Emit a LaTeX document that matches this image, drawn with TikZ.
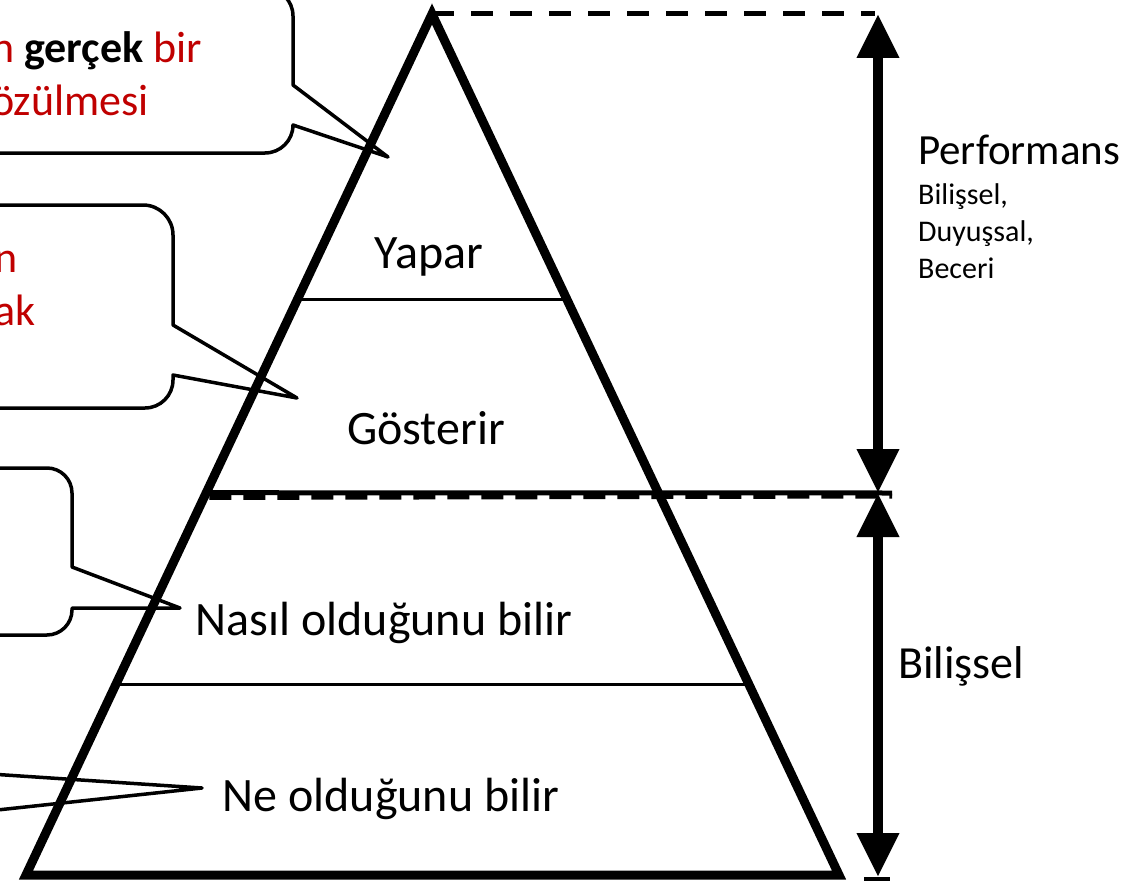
\documentclass[tikz,border=0pt]{standalone}
\usepackage{fontspec}
\setmainfont{Carlito}
\usepackage{xcolor}
\usetikzlibrary{arrows.meta,calc}
\definecolor{notered}{HTML}{C00000}

\begin{document}
\begin{tikzpicture}[x=1pt,y=-1pt,
    lbl/.style={font=\fontsize{48}{58}\selectfont,anchor=base,inner sep=0pt},
    callout/.style={draw=black,line width=3.5pt,fill=white,line join=round},
    notetext/.style={font=\fontsize{44}{53}\selectfont,text=notered,align=left,anchor=base west,inner sep=0pt},
    divider/.style={line width=3pt},
    span/.style={line width=10pt,{Triangle[width=40pt,length=44pt]}-{Triangle[width=40pt,length=44pt]}}]
    \useasboundingbox (0,0) rectangle (1141,883);
    \clip (0,0) rectangle (1141,883);
    % ===== Callouts (LEFT) =====
    \coordinate (tipA) at (388,157);
    \coordinate (tipB) at (297,398);
    \coordinate (tipC) at (180,608);
    \coordinate (tipD) at (202,788);
    \draw[callout] (-40,-12) -- (265,-12) arc[start angle=-90,end angle=0,radius=28] -- (293,85) -- (tipA) -- (293,125) arc[start angle=0,end angle=90,radius=28] -- (-40,153) -- cycle;
    \draw[callout] (-40,205) -- (143,205) arc[start angle=-90,end angle=0,radius=30] -- (173,325) -- (tipB) -- (173,375) -- (173,380) arc[start angle=0,end angle=90,radius=28] -- (-40,408) -- cycle;
    \draw[callout] (-40,468) -- (47,468) arc[start angle=-90,end angle=0,radius=25] -- (72,567) -- (tipC) -- (72,608) -- (72,610) arc[start angle=0,end angle=90,radius=25] -- (-40,635) -- cycle;
    \draw[callout] (-40,772) -- (tipD) -- (-40,814) -- cycle;
    % multi-line nodes sit on their last baseline
    \node[notetext] (noteA) at (-9,115) {n \textbf{\color{black}gerçek} bir\\özülmesi};
    \node[notetext] (noteB) at (-6,325) {n\\ak};
    % ===== Pyramid (MIDDLE) =====
    \coordinate (apex) at (432,14);
    \coordinate (bl) at (26,875);
    \coordinate (br) at (839,875);
    \draw[line width=5pt,dash pattern=on 22pt off 17pt] (apex) -- (875,14);
    \draw[line width=5pt,dash pattern=on 22pt off 12pt] ($(apex)!0.558!(bl)+(4,3)$) -- (892,496);
    \draw[line width=5pt] ($(apex)!0.556!(bl)$) -- (892,493);
    \draw[divider] ($(apex)!0.332!(bl)$) -- ($(apex)!0.332!(br)$);
    \draw[divider] ($(apex)!0.779!(bl)$) -- ($(apex)!0.779!(br)$);
    \draw[line width=9pt,miter limit=20] (apex) -- (bl) -- (br) -- cycle;
    \node[lbl] (yapar) at (429,268) {Yapar};
    \node[lbl] (gosterir) at (426,444) {Gösterir};
    \node[lbl] (nasil) at (384,635) {Nasıl olduğunu bilir};
    \node[lbl] (ne) at (391,811) {Ne olduğunu bilir};
    % ===== Ranges (RIGHT) =====
    \coordinate (topend) at (878,14);
    \coordinate (midend) at (878,493);
    \coordinate (botend) at (878,877);
    \draw[span] (topend) -- (midend);
    \draw[span] (midend) -- (botend);
    \draw[line width=4pt] ($(botend)+(-14,2)$) -- ($(botend)+(12,2)$);
    \node[anchor=base west,inner sep=0pt,font=\fontsize{43}{52}\selectfont] (perf) at (918,164) {Performans};
    \node[anchor=base west,inner sep=0pt,align=left,font=\fontsize{30}{37}\selectfont] (perfsub) at (918,278) {Bilişsel,\\Duyuşsal,\\Beceri};
    \node[anchor=base west,inner sep=0pt,font=\fontsize{46}{55}\selectfont] (bilissel) at (898,678) {Bilişsel};
\end{tikzpicture}
\end{document}
